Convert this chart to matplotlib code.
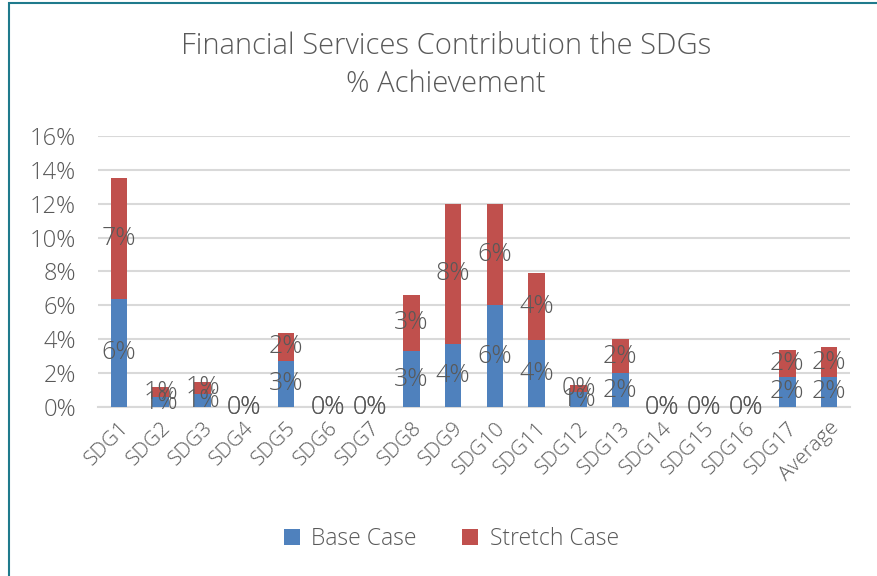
import matplotlib.pyplot as plt
from matplotlib.patches import Rectangle

# Data (values in %)
categories = ["SDG1", "SDG2", "SDG3", "SDG4", "SDG5", "SDG6", "SDG7", "SDG8", "SDG9",
              "SDG10", "SDG11", "SDG12", "SDG13", "SDG14", "SDG15", "SDG16", "SDG17", "Average"]
base_case = [6.38, 0.57, 0.75, 0, 2.73, 0, 0, 3.29, 3.72,
             6.0, 3.96, 0.87, 2.0, 0, 0, 0, 1.79, 1.79]
stretch_case = [7.14, 0.63, 0.75, 0, 1.66, 0, 0, 3.34, 8.28,
                6.0, 3.97, 0.45, 2.0, 0, 0, 0, 1.57, 1.73]
y_ticks = [0, 2, 4, 6, 8, 10, 12, 14, 16]

plt.rcParams["font.family"] = ["Open Sans", "DejaVu Sans"]
plt.rcParams["font.weight"] = "light"
grey = "#595959"

fig = plt.figure(figsize=(8.78, 5.76), dpi=100)
ax = fig.add_axes([98 / 878, 0.2934, 752 / 878, 0.4705])

x = range(len(categories))
b1 = ax.bar(x, base_case, width=0.4, color="#4f81bd", label="Base Case", zorder=3)
b2 = ax.bar(x, stretch_case, width=0.4, bottom=base_case, color="#c0504d",
            label="Stretch Case", zorder=3)

fmt = lambda v: "%d%%" % round(v)
ax.bar_label(b1, labels=[fmt(v) for v in base_case], label_type="center",
             fontsize=18, color=grey, zorder=4)
ax.bar_label(b2, labels=[fmt(v) for v in stretch_case], label_type="center",
             fontsize=18, color=grey, zorder=4)

ax.set_xlim(-0.5, len(categories) - 0.5)
ax.set_ylim(0, 16)
ax.set_yticks(y_ticks)
ax.set_yticklabels(["%d%%" % t for t in y_ticks], fontsize=17, color=grey)
ax.set_xticks(list(x))
ax.set_xticklabels(categories, rotation=45, ha="right", rotation_mode="anchor",
                   fontsize=15, color=grey)
ax.tick_params(length=0, pad=8)
ax.tick_params(axis="y", pad=16)

ax.grid(axis="y", color="#d9d9d9", linewidth=1.5, zorder=0)
for s in ["top", "right", "left"]:
    ax.spines[s].set_visible(False)
ax.spines["bottom"].set_color("#d9d9d9")
ax.spines["bottom"].set_linewidth(1.5)

fig.text(0.508, 0.887, "Financial Services Contribution the SDGs\n% Achievement",
         ha="center", va="center", fontsize=21, color=grey, linespacing=1.4)

fig.legend(loc="center", bbox_to_anchor=(0.514, 0.064), ncol=2, frameon=False,
           fontsize=16.5, labelcolor=grey, handlelength=0.7, handleheight=0.7,
           columnspacing=2.0, handletextpad=0.5)

# chart border
fig.patches.append(Rectangle((9.5 / 878, -0.1), 1.2, 1.1 - 3.5 / 576, transform=fig.transFigure,
                             fill=False, edgecolor="#1f7a8c", linewidth=1.5))

fig.savefig("out.png", dpi=100)
